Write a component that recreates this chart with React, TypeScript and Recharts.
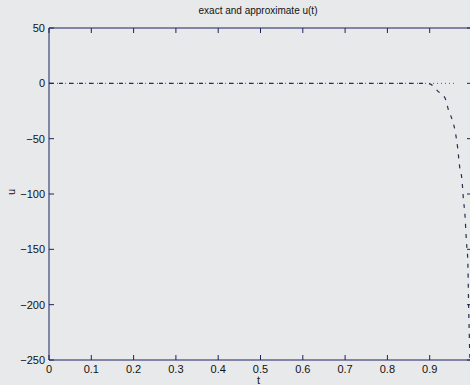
import React from "react";
import { LineChart, Line, XAxis, YAxis } from "recharts";

// t values and u values
const tFlat = [0, 0.1, 0.2, 0.3, 0.4, 0.5, 0.6, 0.7, 0.8, 0.9, 0.96];
const uFlat = [0, 0, 0, 0, 0, 0, 0, 0, 0, 0, 0];

const tDive = [0, 0.2, 0.4, 0.6, 0.8, 0.883, 0.9, 0.919, 0.936, 0.945, 0.955, 0.96, 0.966, 0.971, 0.976, 0.98, 0.983, 0.987, 0.99, 0.992, 0.995];
const uDive = [0, 0, 0, 0, 0, 0, -0.5, -7, -13, -25, -35, -43, -58, -76, -86, -106, -117, -144, -160, -200, -250];

const xTicks = [0, 0.1, 0.2, 0.3, 0.4, 0.5, 0.6, 0.7, 0.8, 0.9, 1];
const yTicks = [50, 0, -50, -100, -150, -200, -250];

const flatData = tFlat.map((t, i) => ({ t, u: uFlat[i] }));
const diveData = tDive.map((t, i) => ({ t, u: uDive[i] }));

const axisColor = "#1f2060";
const font = "'Liberation Sans', Arial, sans-serif";
const tickStyle = { fontSize: 11, fill: "#111", fontFamily: font };

const fmtX = (v: number) => (v === 0 ? "0" : v === 1 ? "" : String(v));
const fmtY = (v: number) => (v < 0 ? "\u2212" + Math.abs(v) : String(v));

// tick marks on the frame but no labels
const NoLabel = () => <g />;

export default function App() {
  return (
    <div
      style={{
        position: "absolute",
        left: 0,
        top: 0,
        width: 470,
        height: 385,
        overflow: "hidden",
        background: "#e8e9eb",
        fontFamily: font,
      }}
    >
      <div
        style={{
          position: "absolute",
          top: 5,
          left: 158,
          width: 200,
          textAlign: "center",
          fontSize: 10,
          color: "#111",
        }}
      >
        exact and approximate u(t)
      </div>
      <div
        style={{
          position: "absolute",
          left: 8,
          top: 186,
          fontSize: 11,
          color: "#111",
          transform: "rotate(-90deg)",
        }}
      >
        u
      </div>
      <div style={{ position: "absolute", left: 257, top: 374, fontSize: 11, color: "#111" }}>t</div>
      <LineChart width={480} height={385} margin={{ top: 27, right: 7, bottom: 0, left: 0 }}>
        <XAxis
          xAxisId="b"
          dataKey="t"
          type="number"
          domain={[0, 1]}
          ticks={xTicks}
          tickFormatter={fmtX}
          height={25}
          tickSize={-5}
          tickMargin={10}
          stroke={axisColor}
          tick={tickStyle}
          allowDuplicatedCategory={false}
        />
        <XAxis
          xAxisId="top"
          dataKey="t"
          orientation="top"
          type="number"
          domain={[0, 1]}
          ticks={xTicks}
          height={1}
          tickSize={-5}
          tick={NoLabel}
          stroke={axisColor}
        />
        <YAxis
          yAxisId="l"
          type="number"
          domain={[-250, 50]}
          ticks={yTicks}
          tickFormatter={fmtY}
          width={49}
          tickSize={-5}
          tickMargin={9}
          stroke={axisColor}
          tick={tickStyle}
        />
        <YAxis
          yAxisId="right"
          orientation="right"
          type="number"
          domain={[-250, 50]}
          ticks={yTicks}
          width={1}
          tickSize={-5}
          tick={NoLabel}
          stroke={axisColor}
        />
        {/* invisible series so the top/right frame axes get drawn */}
        <Line
          xAxisId="top"
          yAxisId="right"
          data={flatData}
          dataKey="u"
          stroke="none"
          dot={false}
          isAnimationActive={false}
        />
        <Line
          xAxisId="b"
          yAxisId="l"
          data={flatData}
          dataKey="u"
          type="linear"
          stroke="#55586a"
          strokeWidth={1}
          strokeDasharray="1 3"
          dot={false}
          isAnimationActive={false}
        />
        <Line
          xAxisId="b"
          yAxisId="l"
          data={diveData}
          dataKey="u"
          type="monotone"
          stroke="#2a2c50"
          strokeWidth={1.2}
          strokeDasharray="4 6"
          dot={false}
          isAnimationActive={false}
        />
      </LineChart>
    </div>
  );
}
